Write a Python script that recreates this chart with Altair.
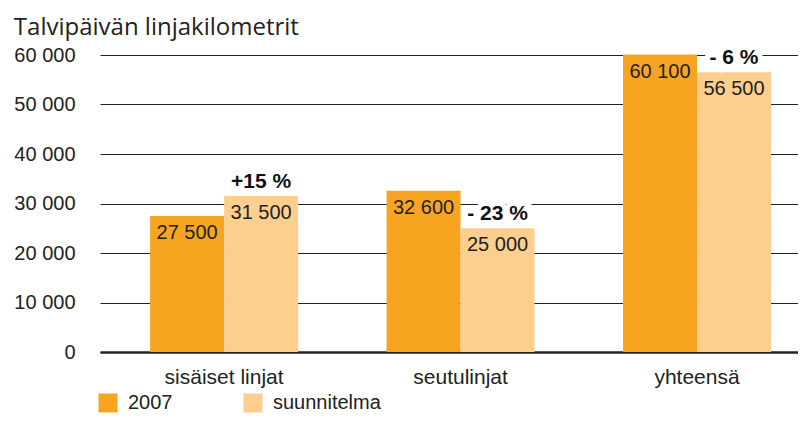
import altair as alt
import pandas as pd

categories = ["sisäiset linjat", "seutulinjat", "yhteensä"]
series = ["2007", "suunnitelma"]
values_2007 = [27500, 32600, 60100]
values_plan = [31500, 25000, 56500]
changes = ["+15 %", "- 23 %", "- 6 %"]
y_ticks = [0, 10000, 20000, 30000, 40000, 50000, 60000]
colors = ["#F7A520", "#FDCF8E"]

rows = []
for i, c in enumerate(categories):
    rows.append({"cat": c, "series": series[0], "value": values_2007[i], "change": ""})
    rows.append({"cat": c, "series": series[1], "value": values_plan[i], "change": changes[i]})
df = pd.DataFrame(rows)

FONT = "Liberation Sans"
TXT = "#222222"

base = alt.Chart(df).encode(
    x=alt.X("cat:N", sort=categories,
            scale=alt.Scale(paddingInner=0.374, paddingOuter=0.163, align=0.65),
            axis=alt.Axis(title=None, labelAngle=0, ticks=False, domain=True,
                          domainColor="#222222", domainWidth=2.5,
                          labelFontSize=21, labelFont=FONT, labelColor=TXT,
                          labelPadding=14)),
    xOffset=alt.XOffset("series:N", sort=series),
)

bars = base.mark_bar().encode(
    y=alt.Y("value:Q", scale=alt.Scale(domain=[0, 60000], nice=False),
            axis=alt.Axis(values=y_ticks, title=None, grid=True, gridColor="#222222",
                          gridWidth=1, domain=False, ticks=False, labelPadding=25,
                          labelFontSize=20, labelFont=FONT, labelColor=TXT,
                          labelExpr="replace(format(datum.value, ','), ',', ' ')")),
    color=alt.Color("series:N", sort=series,
                    scale=alt.Scale(domain=series, range=colors),
                    legend=alt.Legend(title=None, orient="none", legendX=-2, legendY=338,
                                      direction="horizontal", symbolType="square",
                                      symbolSize=361, symbolStrokeWidth=0,
                                      symbolOpacity=1,
                                      columnPadding=70, labelFontSize=20,
                                      labelFont=FONT, labelColor=TXT, padding=0,
                                      labelOffset=10)),
)

vals = base.transform_calculate(
    lab="replace(format(datum.value, ','), ',', ' ')"
).mark_text(baseline="top", dy=7, fontSize=20, font=FONT, color=TXT).encode(
    y="value:Q", text="lab:N"
)

halo = base.transform_filter(alt.datum.series == "suunnitelma").mark_text(
    baseline="bottom", dy=-4, fontSize=21, font=FONT, fontWeight="bold",
    color="white", stroke="white", strokeWidth=10
).encode(y="value:Q", text="change:N")

pct = base.transform_filter(alt.datum.series == "suunnitelma").mark_text(
    baseline="bottom", dy=-4, fontSize=21, font=FONT, fontWeight="bold", color="#111111"
).encode(y="value:Q", text="change:N")

chart = alt.layer(bars, vals, halo, pct).properties(
    width=698, height=297,
    autosize=alt.AutoSizeParams(type="none"),
    padding={"left": 92, "top": 47, "right": 0, "bottom": 63},
    title=alt.TitleParams("Talvipäivän linjakilometrit", anchor="start", frame="bounds",
                          fontSize=24, font="Open Sans", fontWeight="normal",
                          color=TXT, offset=5),
).configure_view(stroke=None)

chart.save("out.html", embed_options={"renderer": "svg", "actions": False})
